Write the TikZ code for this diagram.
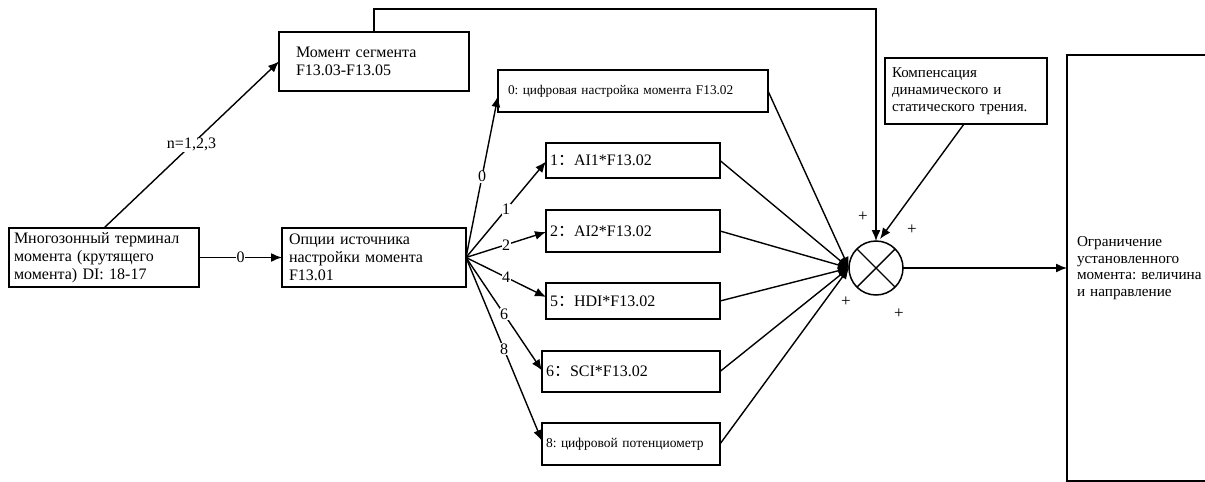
\documentclass[tikz,border=0pt]{standalone}
\usepackage{fontspec}
\setmainfont{Liberation Serif}
\newfontfamily\cjk{Noto Sans CJK SC}
\usetikzlibrary{arrows.meta,calc}
\newcommand{\fw}{{\cjk ：}}
\frenchspacing
\begin{document}
\begin{tikzpicture}[x=1pt,y=-1pt,
  every node/.style={inner sep=0pt,outer sep=0pt},
  blk/.style={draw,line width=1.5pt,align=left,font=\fontsize{16}{17.8}\selectfont},
  sblk/.style={draw,line width=1.5pt,align=left,font=\fontsize{13.5}{16}\selectfont},
  arr/.style={line width=1.4pt,-{Latex[length=11pt,width=9pt]}},
  lbl/.style={fill=white,inner sep=0.5pt,font=\fontsize{16}{17}\selectfont},
  pl/.style={font=\fontsize{17}{18}\selectfont}]
\clip (0,0) rectangle (1205,482);
\fill[white] (0,0) rectangle (1205,482);
% boxes
\node[blk,minimum width=190pt,minimum height=59pt,inner xsep=5pt,text width=180pt] (A) at (104,257.5)
  {Многозонный терминал\\момента (крутящего\\момента) DI: 18-17};
\node[blk,minimum width=190pt,minimum height=59pt,inner xsep=17pt,text width=156pt] (M) at (374,61.5)
  {Момент сегмента\\F13.03-F13.05};
\node[blk,minimum width=184pt,minimum height=59pt,inner xsep=7pt,text width=170pt] (O) at (374,257.5)
  {Опции источника\\настройки момента\\F13.01};
\node[sblk,font=\fontsize{13.3}{16}\selectfont,minimum width=270pt,minimum height=42pt,inner xsep=10pt,text width=250pt] (B0) at (633,91)
  {0: цифровая настройка момента F13.02};
\node[blk,minimum width=174pt,minimum height=35pt,inner xsep=4pt,text width=166pt] (B1) at (633,160.5)
  {1\fw AI1*F13.02};
\node[blk,minimum width=174pt,minimum height=42pt,inner xsep=4pt,text width=166pt] (B2) at (633,231)
  {2\fw AI2*F13.02};
\node[blk,minimum width=174pt,minimum height=36pt,inner xsep=4pt,text width=166pt] (B5) at (633,301)
  {5\fw HDI*F13.02};
\node[blk,minimum width=178pt,minimum height=41pt,inner xsep=4pt,text width=170pt] (B6) at (631,371.5)
  {6\fw SCI*F13.02};
\node[sblk,minimum width=178pt,minimum height=42pt,inner xsep=4pt,text width=170pt] (B8) at (631,444)
  {8: цифровой потенциометр};
\node[blk,font=\fontsize{15}{17}\selectfont,minimum width=162pt,minimum height=66pt,inner xsep=7pt,text width=148pt] (C) at (966,91)
  {Компенсация\\динамического и\\статического трения.};
\node[blk,font=\fontsize{15.2}{16.7}\selectfont,minimum width=200pt,minimum height=426pt,inner xsep=10pt,text width=180pt] (G) at (1167,268)
  {Ограничение\\установленного\\момента: величина\\и направление};
% summing junction
\node[draw,circle,line width=1.5pt,minimum size=54pt] (S) at (876,268) {};
\draw[line width=1.4pt] (S.45) -- (S.225) (S.135) -- (S.315);
% connectors
\draw[arr] (A.north) -- (M.west) node[lbl,midway] {n=1,2,3};
\draw[arr] (A.east) -- (O.west) node[lbl,midway] {0};
\draw[arr] (O.east) -- ([yshift=-5pt]B0.west) node[lbl,midway] {0};
\draw[arr] (O.east) -- ([yshift=-1pt]B1.west) node[lbl,midway] {1};
\draw[arr] (O.east) -- ([yshift=-1pt]B2.west) node[lbl,midway] {2};
\draw[arr] (O.east) -- ([yshift=4pt]B5.west) node[lbl,midway] {4};
\draw[arr] (O.east) -- ([yshift=1pt]B6.west) node[lbl,midway] {6};
\draw[arr] (O.east) -- ([yshift=3pt]B8.west) node[lbl,midway] {8};
\foreach \b in {B0,B1,B2,B5,B6,B8}
  \draw[arr] (\b.east) -- (S.west);
\coordinate (topy) at (0,9);
\draw[arr] (M.north) -- (M.north |- topy) -| (S.north);
\draw[arr] ([xshift=-2pt]C.south) -- ([xshift=4pt,yshift=2pt]S.north);
\draw[arr] (S.east) -- (G.west);
% signs
\node[pl] (p1) at (863,217) {+};
\node[pl] (p2) at (912,230) {+};
\node[pl] (p3) at (846,302) {+};
\node[pl] (p4) at (899,314) {+};
\end{tikzpicture}
\end{document}
